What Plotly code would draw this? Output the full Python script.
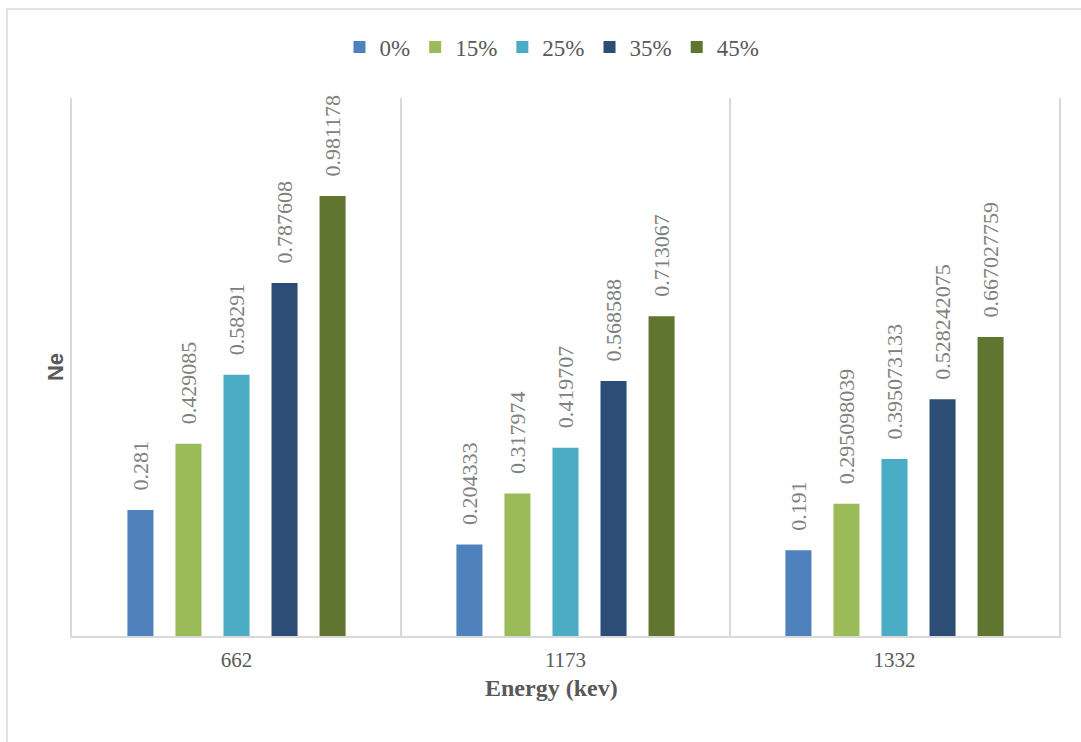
import plotly.graph_objects as go

categories = ["662", "1173", "1332"]
series_names = ["0%", "15%", "25%", "35%", "45%"]
values_0 = [0.281, 0.204333, 0.191]
values_15 = [0.429085, 0.317974, 0.295098039]
values_25 = [0.58291, 0.419707, 0.395073133]
values_35 = [0.787608, 0.568588, 0.528242075]
values_45 = [0.981178, 0.713067, 0.667027759]
all_values = [values_0, values_15, values_25, values_35, values_45]
colors = ["#4F81BD", "#9BBB59", "#4BACC6", "#2C4D75", "#5F7530"]

W, H = 1081, 742
ml, mr, mt, mb = 72, 22, 98, 106
pw, ph = W - ml - mr, H - mt - mb

fig = go.Figure()
for name, vals, col in zip(series_names, all_values, colors):
    fig.add_trace(go.Bar(
        x=categories, y=vals, name=name,
        marker=dict(color=col, line=dict(width=0)),
        text=["\u00a0\u00a0\u00a0" + str(v) for v in vals],
        textposition="outside", textangle=-90,
        textfont=dict(family="Liberation Serif", size=22, color="#808080"),
        constraintext="none", cliponaxis=False,
        hoverinfo="skip",
    ))

def px_x(p):
    return (p - ml) / pw

def px_y(p):
    return (H - mb - p) / ph

fig.update_layout(
    width=W, height=H,
    margin=dict(l=ml, r=mr, t=mt, b=mb, pad=0),
    paper_bgcolor="white", plot_bgcolor="white",
    barmode="group", bargap=0.27, bargroupgap=0.458,
    showlegend=True,
    legend=dict(orientation="h", x=px_x(552), xanchor="center",
                y=px_y(47), yanchor="middle",
                font=dict(family="Liberation Serif", size=23, color="#595959"),
                traceorder="normal", itemclick=False),
    xaxis=dict(
        type="category", tickson="boundaries", showgrid=True,
        gridcolor="#D9D9D9", gridwidth=1.5,
        showline=True, linecolor="#D9D9D9", linewidth=1.5,
        ticks="", ticklabelstandoff=4,
        tickfont=dict(family="Liberation Serif", size=21, color="#595959"),
    ),
    yaxis=dict(
        range=[0, 1.2], showticklabels=False, showgrid=False, zeroline=False,
        showline=True, mirror=True, linecolor="#D9D9D9", linewidth=1.5,
        ticks="",
        title=dict(text="<b>Ne</b>", standoff=1,
                   font=dict(family="Liberation Sans", size=22, color="#595959")),
    ),
    annotations=[dict(text="<b>Energy (kev)</b>", xref="paper", yref="paper",
                      x=px_x(551), y=px_y(688), xanchor="center", yanchor="middle",
                      showarrow=False,
                      font=dict(family="Liberation Serif", size=24, color="#595959"))],
    shapes=[dict(type="rect", xref="paper", yref="paper",
                 x0=px_x(7), x1=px_x(1090), y0=px_y(760), y1=px_y(9),
                 line=dict(color="#D9D9D9", width=1.5), layer="below")],
)

fig.write_html("out.html")
